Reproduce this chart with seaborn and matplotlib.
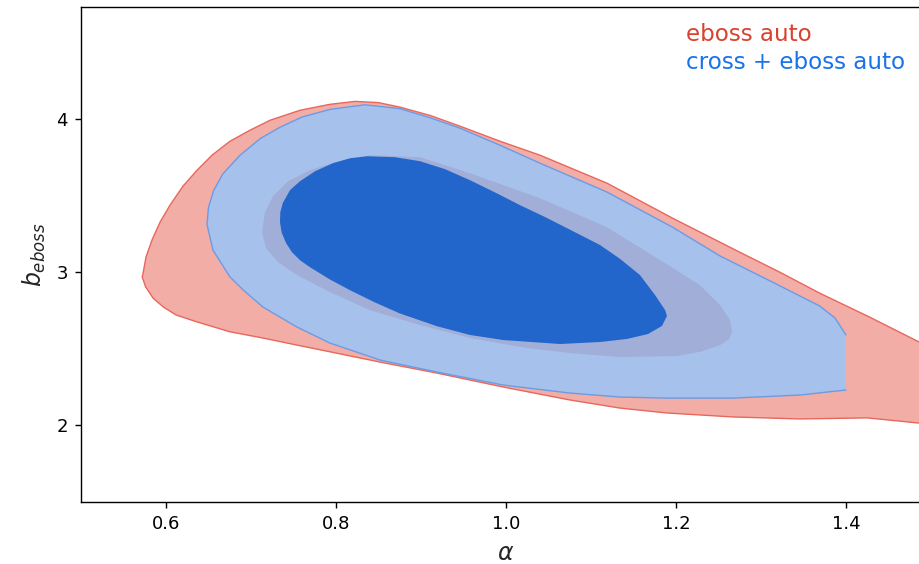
import numpy as np
import pandas as pd
import matplotlib
matplotlib.use("Agg")
import matplotlib.pyplot as plt
import seaborn as sns

# ---- contour boundaries (alpha, b_eboss) ----
# eboss auto, outer (2-sigma) contour
red_outer_alpha = [1.505, 1.484, 1.425, 1.346, 1.267, 1.189, 1.134, 1.075, 0.997, 0.919,
                   0.852, 0.793, 0.754, 0.714, 0.675, 0.636, 0.612, 0.597, 0.585, 0.576,
                   0.572, 0.573, 0.5765, 0.5835, 0.593, 0.6047, 0.620, 0.6365, 0.6541, 0.6753,
                   0.6988, 0.7224, 0.7576, 0.7929, 0.8224, 0.850, 0.875, 0.911, 0.946, 0.993,
                   1.040, 1.119, 1.196, 1.275, 1.322, 1.369, 1.428, 1.486, 1.505]
red_outer_b = [2.008, 2.014, 2.047, 2.040, 2.053, 2.079, 2.111, 2.164, 2.248, 2.339,
               2.411, 2.478, 2.522, 2.568, 2.609, 2.674, 2.718, 2.770, 2.827, 2.902,
               2.967, 2.990, 3.097, 3.207, 3.324, 3.435, 3.559, 3.663, 3.761, 3.852,
               3.924, 3.989, 4.054, 4.093, 4.112, 4.104, 4.075, 4.020, 3.950, 3.852,
               3.761, 3.578, 3.350, 3.128, 2.998, 2.861, 2.704, 2.542, 2.490]

# eboss auto, inner (1-sigma) contour
red_inner_alpha = [0.713, 0.7165, 0.7259, 0.7435, 0.7694, 0.7988, 0.840, 0.8988, 0.9576, 1.040,
                   1.1188, 1.1965, 1.2282, 1.2518, 1.2635, 1.2659, 1.262, 1.2518, 1.230, 1.2012,
                   1.1341, 1.0753, 1.0247, 0.9576, 0.8988, 0.840, 0.7929, 0.7541, 0.7318, 0.7176]
red_inner_b = [3.258, 3.388, 3.493, 3.591, 3.663, 3.715, 3.761, 3.748, 3.643, 3.480,
               3.291, 3.024, 2.913, 2.783, 2.685, 2.607, 2.560, 2.522, 2.480, 2.451,
               2.444, 2.470, 2.503, 2.568, 2.653, 2.750, 2.868, 2.979, 3.063, 3.154]

# cross + eboss auto, outer (2-sigma) contour (prior edge at alpha = 1.4)
blue_outer_alpha = [1.400, 1.346, 1.267, 1.189, 1.134, 1.075, 0.997, 0.919, 0.852, 0.793,
                    0.754, 0.714, 0.691, 0.6753, 0.6553, 0.6482, 0.650, 0.656, 0.667, 0.687,
                    0.711, 0.734, 0.760, 0.793, 0.834, 0.875, 0.911, 0.946, 0.993, 1.040,
                    1.119, 1.196, 1.252, 1.311, 1.369, 1.387, 1.400]
blue_outer_b = [2.229, 2.196, 2.176, 2.176, 2.183, 2.209, 2.261, 2.346, 2.424, 2.535,
                2.640, 2.770, 2.881, 2.966, 3.141, 3.310, 3.420, 3.530, 3.640, 3.760,
                3.870, 3.943, 4.010, 4.060, 4.090, 4.065, 4.005, 3.937, 3.826, 3.709,
                3.520, 3.291, 3.103, 2.940, 2.777, 2.699, 2.588]

# cross + eboss auto, inner (1-sigma) contour
blue_inner_alpha = [0.7341, 0.7345, 0.7375, 0.7459, 0.7576, 0.7753, 0.7965, 0.8165, 0.8365, 0.8694,
                    0.8988, 0.9282, 0.9576, 0.990, 1.0165, 1.045, 1.0753, 1.1106, 1.1341, 1.1576,
                    1.1753, 1.1871, 1.1894, 1.1835, 1.1671, 1.1424, 1.1106, 1.0635, 0.9965, 0.9576,
                    0.9188, 0.8753, 0.8459, 0.8165, 0.7929, 0.7694, 0.7576, 0.7482, 0.7410, 0.7360]
blue_inner_b = [3.324, 3.390, 3.450, 3.533, 3.591, 3.656, 3.709, 3.741, 3.754, 3.748,
                3.722, 3.670, 3.598, 3.510, 3.435, 3.360, 3.275, 3.175, 3.085, 2.979,
                2.849, 2.751, 2.712, 2.647, 2.594, 2.562, 2.542, 2.529, 2.555, 2.588,
                2.645, 2.728, 2.800, 2.880, 2.950, 3.030, 3.076, 3.128, 3.190, 3.258]

labels = ["eboss auto", "cross + eboss auto"]

# ---- style ----
sns.set_style("ticks")
plt.rcParams['font.family'] = ['DejaVu Sans']
plt.rcParams['mathtext.fontset'] = 'dejavusans'

RED_FILL = "#F2ADA6"
RED_EDGE = "#E8675C"
RED_INNER = "#A1AED7"
BLUE_FILL = "#A6C1EB"
BLUE_EDGE = "#6A9CE6"
BLUE_INNER = "#2266CC"

fig = plt.figure(figsize=(9.19, 5.64), dpi=100)
ax = fig.add_axes([81 / 919, 62.3 / 564, 850 / 919, 495 / 564])

# eboss auto outer
ax.fill(red_outer_alpha, red_outer_b, color=RED_FILL, lw=0, zorder=1)
df = pd.DataFrame({"alpha": red_outer_alpha, "b": red_outer_b})
sns.lineplot(data=df, x="alpha", y="b", sort=False, estimator=None, color=RED_EDGE,
             lw=1.0, ax=ax, zorder=2)

# cross + eboss auto outer
ax.fill(blue_outer_alpha, blue_outer_b, color=BLUE_FILL, lw=0, zorder=3)
df = pd.DataFrame({"alpha": blue_outer_alpha, "b": blue_outer_b})
sns.lineplot(data=df, x="alpha", y="b", sort=False, estimator=None, color=BLUE_EDGE,
             lw=1.0, ax=ax, zorder=4)

# inner contours
ax.fill(red_inner_alpha, red_inner_b, color=RED_INNER, lw=0, zorder=5)
ax.fill(blue_inner_alpha, blue_inner_b, color=BLUE_INNER, lw=0, zorder=6)

ax.set_xlim(0.5, 1.5)
ax.set_ylim(1.5, 4.73)
ax.set_xticks([0.6, 0.8, 1.0, 1.2, 1.4])
ax.set_yticks([2, 3, 4])
ax.tick_params(labelsize=13, length=4.5, width=1, pad=5, colors="black")
for s in ax.spines.values():
    s.set_linewidth(1.0)
    s.set_color("black")

ax.set_xlabel(r"$\alpha$", fontsize=17, labelpad=6)
ax.set_ylabel(r"$b_{eboss}$", fontsize=17, labelpad=6)

ax.text(0.7114, 0.9313, labels[0], transform=ax.transAxes, color="#D8432F",
        fontsize=16.6, va="baseline", ha="left")
ax.text(0.7114, 0.8737, labels[1], transform=ax.transAxes, color="#1A73E8",
        fontsize=16.6, va="baseline", ha="left")

fig.savefig("out.png", dpi=100)
